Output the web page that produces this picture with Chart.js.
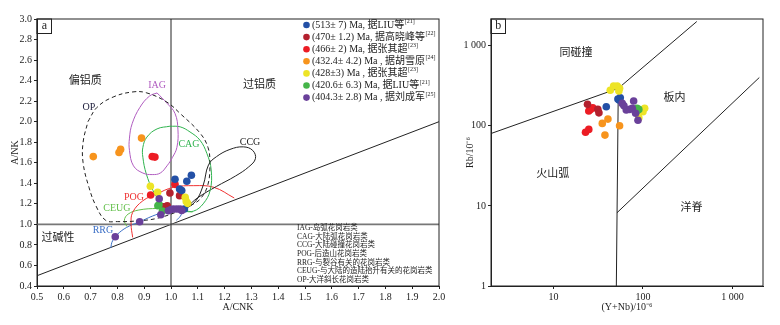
<!DOCTYPE html>
<html>
<head>
<meta charset="utf-8">
<script src="https://cdn.jsdelivr.net/npm/chart.js@4.4.1/dist/chart.umd.min.js"></script>
<style>
  body { margin: 0; background: #fff; }
  #boxA { position: absolute; left: 0; top: 0; }
  #boxB { position: absolute; left: 450px; top: 0; }
</style>
</head>
<body>
<canvas id="boxA" width="450" height="325"></canvas>
<canvas id="boxB" width="330" height="325"></canvas>
<script>
// 图例 (两幅图共用)
const groupLabels = ['(513± 7) Ma, 据LIU等', '(470± 1.2) Ma, 据高晓峰等', '(466± 2) Ma, 据张其超', '(432.4± 4.2) Ma , 据胡雪原', '(428±3) Ma , 据张其超', '(420.6± 6.3) Ma, 据LIU等', '(404.3± 2.8) Ma , 据刘成军'];
const groupRefs = ['[21]', '[22]', '[23]', '[24]', '[23]', '[21]', '[25]'];
const groupColors = ['#2350a6', '#b3202e', '#ec1c24', '#f7941d', '#ede426', '#45b549', '#6a409a'];

// 图a: A/CNK - A/NK
const acnkTicks = [0.5, 0.6, 0.7, 0.8, 0.9, 1.0, 1.1, 1.2, 1.3, 1.4, 1.5, 1.6, 1.7, 1.8, 1.9, 2.0];
const ankTicks = [0.4, 0.6, 0.8, 1.0, 1.2, 1.4, 1.6, 1.8, 2.0, 2.2, 2.4, 2.6, 2.8, 3.0];

const a513 = [[1.015, 1.44], [1.032, 1.345], [1.059, 1.42], [1.076, 1.478], [1.04, 1.33], [1.05, 1.15]];
const a470 = [[0.996, 1.306], [1.032, 1.28], [0.971, 1.172], [0.986, 1.182], [0.978, 1.168]];
const a466 = [[0.93, 1.66], [0.94, 1.655], [1.015, 1.39], [0.924, 1.286]];
const a432 = [[0.71, 1.66], [0.806, 1.70], [0.812, 1.73], [0.89, 1.84]];
const a428 = [[0.923, 1.371], [0.95, 1.312], [1.053, 1.263], [1.057, 1.224], [1.062, 1.205]];
const a420 = [[0.951, 1.182], [0.955, 1.19], [0.968, 1.13]];
const a404 = [[0.956, 1.25], [0.99, 1.133], [1.0, 1.145], [1.009, 1.15], [1.022, 1.15], [1.034, 1.15], [1.04, 1.135], [0.962, 1.094], [0.883, 1.026], [0.792, 0.88]];

const fieldOP = [[0.69, 2.0], [0.724, 2.14], [0.784, 2.24], [0.858, 2.29], [0.91, 2.28], [0.985, 2.19], [1.034, 2.08], [1.108, 1.89], [1.138, 1.75], [1.145, 1.6], [1.138, 1.39], [1.11, 1.25], [1.07, 1.18], [1.03, 1.13], [0.95, 1.06], [0.88, 1.035], [0.8, 1.027], [0.756, 1.04], [0.72, 1.18], [0.694, 1.36], [0.672, 1.6], [0.672, 1.8], [0.69, 2.0]];
const fieldIAG = [[0.948, 2.28], [0.985, 2.18], [1.015, 2.08], [1.026, 1.92], [1.022, 1.75], [1.005, 1.65], [0.985, 1.57], [0.96, 1.5], [0.93, 1.485], [0.895, 1.5], [0.86, 1.57], [0.845, 1.72], [0.845, 1.84], [0.855, 1.98], [0.884, 2.14], [0.92, 2.25], [0.948, 2.28]];
const fieldCAG = [[0.996, 1.956], [1.034, 1.95], [1.071, 1.9], [1.108, 1.82], [1.134, 1.69], [1.15, 1.53], [1.146, 1.33], [1.12, 1.2], [1.085, 1.13], [1.047, 1.13], [0.996, 1.166], [0.958, 1.23], [0.933, 1.33], [0.908, 1.49], [0.895, 1.654], [0.895, 1.75], [0.91, 1.85], [0.948, 1.93], [0.996, 1.956]];
const fieldCCG = [[1.04, 1.13], [1.09, 1.22], [1.12, 1.38], [1.14, 1.58], [1.17, 1.66], [1.22, 1.73], [1.27, 1.755], [1.305, 1.72], [1.315, 1.64], [1.29, 1.56], [1.24, 1.47], [1.17, 1.37], [1.1, 1.26], [1.06, 1.17], [1.04, 1.13]];
const fieldPOG = [[0.857, 0.873], [0.851, 1.003], [0.857, 1.117], [0.895, 1.23], [0.946, 1.296], [1.009, 1.361], [1.085, 1.377], [1.16, 1.361], [1.236, 1.257]];
const fieldCEUG = [[0.835, 0.98], [0.826, 1.04], [0.84, 1.1], [0.88, 1.14], [0.95, 1.155], [1.02, 1.15], [1.08, 1.12]];
const fieldRRG = [[0.775, 0.77], [0.782, 0.84], [0.807, 0.92], [0.845, 0.985], [0.883, 1.025], [0.93, 1.08], [0.98, 1.125], [1.02, 1.15], [1.04, 1.13], [1.035, 1.08], [1.02, 1.04]];
const lineX1 = [[1.0, 0.4], [1.0, 3.0]];
const lineY1 = [[0.5, 1.0], [2.0, 1.0]];
const lineDiag = [[0.5, 0.5], [2.0, 2.0]];

const abbrList = ['IAG-岛弧花岗岩类', 'CAG-大陆弧花岗岩类', 'CCG-大陆碰撞花岗岩类', 'POG-后造山花岗岩类', 'RRG-与裂谷有关的花岗岩类', 'CEUG-与大陆的造陆抬升有关的花岗岩类', 'OP-大洋斜长花岗岩类'];

// 图b: (Y+Nb) - Rb
const ynbTicks = [10, 100, 1000];
const rbTicks = [1, 10, 100, 1000];

const b513 = [[52.5, 216], [55.8, 224], [54, 209], [38.9, 173]];
const b470 = [[24.0, 185], [31.3, 160], [32.2, 145]];
const b466 = [[25.9, 160], [27.5, 168], [24.8, 153], [22.8, 83], [24.8, 90]];
const b432 = [[40.6, 121], [35.1, 107], [37.6, 76.5], [54.8, 100]];
const b428 = [[43.1, 277], [47, 313], [51.6, 313], [54.8, 293], [53.8, 272], [104.5, 165], [100, 150], [90, 126]];
const b420 = [[85.7, 165], [90, 160], [85.7, 154]];
const b404 = [[58.7, 190], [61.3, 178], [78.7, 204], [65.1, 157], [71, 160], [76, 165], [82.8, 143], [88, 117]];

const bLineLeft = [[2, 80], [53, 293]];
const bLineUp = [[53, 293], [400, 2000]];
const bLineVert = [[50.4, 1], [53, 293]];
const bLineOrg = [[51.2, 8.2], [2000, 400]];

const SERIF = "'Liberation Serif', 'Noto Sans CJK SC', serif";

const toXY = arr => arr.map(p => ({x: p[0], y: p[1]}));

const pointSet = (pts, i) => ({
    data: toXY(pts),
    backgroundColor: groupColors[i],
    borderWidth: 0,
    pointRadius: 3.8,
    showLine: false
});

const curveSet = (pts, color, dash, tension, width) => ({
    data: toXY(pts),
    borderColor: color,
    borderWidth: width || 1,
    borderDash: dash || [],
    pointRadius: 0,
    showLine: true,
    fill: false,
    tension: tension
});

// 坐标框 + 文字
const framePlugin = {
    id: 'frame',
    afterDatasetsDraw(chart) {
        const {ctx, chartArea: a} = chart;
        ctx.save();
        ctx.strokeStyle = '#222';
        ctx.lineWidth = 1;
        ctx.strokeRect(a.left, a.top, a.right - a.left, a.bottom - a.top);
        ctx.restore();
    }
};

const notesPlugin = {
    id: 'notes',
    afterDraw(chart, args, opts) {
        const ctx = chart.ctx;
        const xs = chart.scales.x, ys = chart.scales.y;
        const a = chart.chartArea;
        ctx.save();
        ctx.textAlign = 'center';
        ctx.textBaseline = 'middle';
        (opts.items || []).forEach(n => {
            ctx.font = n.size + 'px ' + SERIF;
            ctx.fillStyle = n.color || '#222';
            ctx.fillText(n.text, xs.getPixelForValue(n.x), ys.getPixelForValue(n.y));
        });
        // 面板编号
        ctx.strokeStyle = '#222';
        ctx.lineWidth = 1;
        ctx.strokeRect(a.left, a.top, 14.5, 14.5);
        ctx.font = '12px ' + SERIF;
        ctx.fillStyle = '#222';
        ctx.fillText(opts.tag, a.left + 7.3, a.top + 7);

        if (opts.legend) {
            ctx.textAlign = 'left';
            groupLabels.forEach((t, i) => {
                const y = 25 + i * 12.1;
                ctx.fillStyle = groupColors[i];
                ctx.beginPath();
                ctx.arc(306.5, y, 3.3, 0, Math.PI * 2);
                ctx.fill();
                ctx.fillStyle = '#222';
                ctx.font = '10px ' + SERIF;
                ctx.fillText(t, 312, y);
                const w = ctx.measureText(t).width;
                ctx.font = '6px ' + SERIF;
                ctx.fillText(groupRefs[i], 312 + w + 0.5, y - 3.5);
            });
            ctx.font = '7.5px ' + SERIF;
            abbrList.forEach((t, i) => {
                ctx.fillText(t, 297, 228 + i * 8.7);
            });
        }
        ctx.restore();
    }
};

const axisCommon = {
    grid: {drawOnChartArea: false, drawTicks: true, tickLength: 3, color: '#222'},
    border: {color: '#222'},
};

const chartA = new Chart(document.getElementById('boxA'), {
    type: 'scatter',
    data: {
        datasets: [
            pointSet(a404, 6), pointSet(a420, 5), pointSet(a428, 4), pointSet(a513, 0),
            pointSet(a470, 1), pointSet(a466, 2), pointSet(a432, 3),
            curveSet(fieldOP, '#222', [4, 3], 0.4),
            curveSet(fieldIAG, '#b05cc0', [], 0.4),
            curveSet(fieldCAG, '#2fb34e', [], 0.4),
            curveSet(fieldCCG, '#222', [], 0.4),
            curveSet(fieldPOG, '#f03232', [], 0.4),
            curveSet(fieldCEUG, '#62bf4a', [], 0.4),
            curveSet(fieldRRG, '#3b6fc6', [], 0.4),
            curveSet(lineX1, '#222', [], 0),
            curveSet(lineY1, '#777', [], 0, 1.8),
            curveSet(lineDiag, '#222', [], 0)
        ]
    },
    options: {
        responsive: false,
        animation: false,
        layout: {padding: {left: 0, top: 19, right: 11, bottom: 0}},
        scales: {
            x: {
                type: 'linear', min: 0.5, max: 2.0,
                ...axisCommon,
                afterBuildTicks: s => { s.ticks = acnkTicks.map(v => ({value: v})); },
                afterFit: s => { s.height = 39; },
                ticks: {autoSkip: false, maxRotation: 0, padding: 2, color: '#222', font: {family: SERIF, size: 10}, callback: v => v.toFixed(1)},
                title: {display: true, text: 'A/CNK', color: '#222', font: {family: SERIF, size: 10}, padding: {top: 0, bottom: 12}}
            },
            y: {
                type: 'linear', min: 0.4, max: 3.0,
                ...axisCommon,
                afterBuildTicks: s => { s.ticks = ankTicks.map(v => ({value: v})); },
                afterFit: s => { s.width = 37; },
                ticks: {autoSkip: false, padding: 2, color: '#222', font: {family: SERIF, size: 10}, callback: v => v.toFixed(1)},
                title: {display: true, text: 'A/NK', color: '#222', font: {family: SERIF, size: 10}, padding: {top: 9, bottom: 0}}
            }
        },
        plugins: {
            legend: {display: false},
            tooltip: {enabled: false},
            notes: {
                tag: 'a',
                legend: true,
                items: [
                    {text: '偏铝质', x: 0.68, y: 2.40, size: 11},
                    {text: '过铝质', x: 1.33, y: 2.36, size: 11},
                    {text: '过碱性', x: 0.578, y: 0.87, size: 11},
                    {text: 'IAG', x: 0.948, y: 2.35, size: 10, color: '#b05cc0'},
                    {text: 'OP', x: 0.694, y: 2.14, size: 10, color: '#1c1c3a'},
                    {text: 'CAG', x: 1.067, y: 1.78, size: 10, color: '#2fb34e'},
                    {text: 'CCG', x: 1.295, y: 1.80, size: 10, color: '#222'},
                    {text: 'POG', x: 0.862, y: 1.266, size: 10, color: '#f03232'},
                    {text: 'CEUG', x: 0.798, y: 1.155, size: 10, color: '#62bf4a'},
                    {text: 'RRG', x: 0.746, y: 0.94, size: 10, color: '#3b6fc6'}
                ]
            }
        }
    },
    plugins: [framePlugin, notesPlugin]
});

const chartB = new Chart(document.getElementById('boxB'), {
    type: 'scatter',
    data: {
        datasets: [
            pointSet(b404, 6), pointSet(b420, 5), pointSet(b428, 4), pointSet(b513, 0),
            pointSet(b470, 1), pointSet(b466, 2), pointSet(b432, 3),
            curveSet(bLineLeft, '#222', [], 0),
            curveSet(bLineUp, '#222', [], 0),
            curveSet(bLineVert, '#222', [], 0),
            curveSet(bLineOrg, '#222', [], 0)
        ]
    },
    options: {
        responsive: false,
        animation: false,
        layout: {padding: {left: 0, top: 19, right: 17, bottom: 0}},
        scales: {
            x: {
                type: 'logarithmic', min: 2, max: 2200,
                ...axisCommon,
                afterBuildTicks: s => { s.ticks = ynbTicks.map(v => ({value: v})); },
                afterFit: s => { s.height = 39; },
                ticks: {autoSkip: false, maxRotation: 0, padding: 2, color: '#222', font: {family: SERIF, size: 10}, callback: v => v === 1000 ? '1 000' : String(v)},
                title: {display: true, text: '(Y+Nb)/10⁻⁶', color: '#222', font: {family: SERIF, size: 10}, padding: {top: 0, bottom: 12}}
            },
            y: {
                type: 'logarithmic', min: 1, max: 2150,
                ...axisCommon,
                afterBuildTicks: s => { s.ticks = rbTicks.map(v => ({value: v})); },
                afterFit: s => { s.width = 41; },
                ticks: {autoSkip: false, padding: 2, color: '#222', font: {family: SERIF, size: 10}, callback: v => v === 1000 ? '1 000' : String(v)},
                title: {display: true, text: 'Rb/10⁻⁶', color: '#222', font: {family: SERIF, size: 10}, padding: {top: 14, bottom: 0}}
            }
        },
        plugins: {
            legend: {display: false},
            tooltip: {enabled: false},
            notes: {
                tag: 'b',
                legend: false,
                items: [
                    {text: '同碰撞', x: 17.9, y: 804, size: 11},
                    {text: '板内', x: 226, y: 220, size: 11},
                    {text: '火山弧', x: 9.8, y: 24.9, size: 11},
                    {text: '洋脊', x: 348, y: 9.3, size: 11}
                ]
            }
        }
    },
    plugins: [framePlugin, notesPlugin]
});
</script>
</body>
</html>
